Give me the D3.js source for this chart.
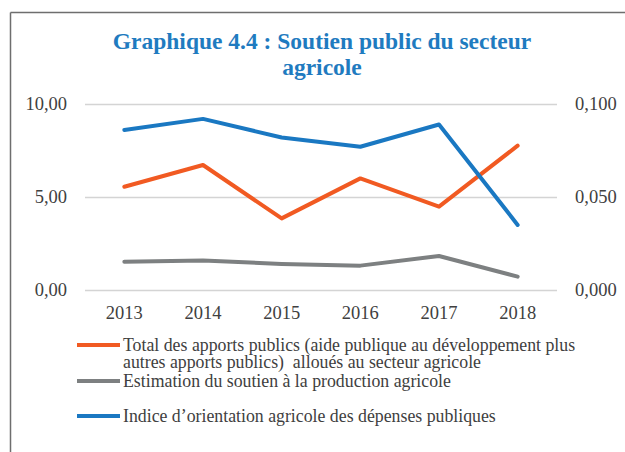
<!DOCTYPE html>
<html>
<head>
<meta charset="utf-8">
<script src="https://cdn.jsdelivr.net/npm/d3@7"></script>
<style>
  body { margin: 0; background: #fff; }
  svg { display: block; font-family: "Liberation Serif", "DejaVu Serif", serif; }
</style>
</head>
<body>
<script>
// data
var years = ['2013', '2014', '2015', '2016', '2017', '2018'];
var totalApports = [5.55, 6.72, 3.85, 6.00, 4.48, 7.76];
var soutienProd = [1.52, 1.58, 1.40, 1.31, 1.83, 0.72];
var indiceOrient = [0.086, 0.092, 0.082, 0.077, 0.089, 0.035];
var leftTicks = [0, 5, 10];
var rightTicks = [0, 0.05, 0.1];
var titleLines = ['Graphique 4.4 : Soutien public du secteur', 'agricole'];
var legendLabels = [
  ['Total des apports publics (aide publique au développement plus', 'autres apports publics)\u00a0 alloués au secteur agricole'],
  ['Estimation du soutien à la production agricole'],
  ['Indice d\u2019orientation agricole des dépenses publiques']
];

var W = 625, H = 452;
var textCol = '#404040';
var colors = ['#f15a22', '#7d8081', '#1a78c2'];

var svg = d3.select('body').append('svg')
  .attr('width', W)
  .attr('height', H);

// frame (top and left edges only)
svg.append('line').attr('x1', 10.5).attr('y1', 12.5).attr('x2', W).attr('y2', 12.5)
  .attr('stroke', '#6e6e6e').attr('stroke-width', 1.5);
svg.append('line').attr('x1', 10.5).attr('y1', 12.5).attr('x2', 10.5).attr('y2', H)
  .attr('stroke', '#6e6e6e').attr('stroke-width', 1.5);

// title
svg.append('text')
  .attr('x', 322)
  .attr('y', 49)
  .attr('text-anchor', 'middle')
  .attr('fill', '#1f7bc0')
  .attr('font-weight', 'bold')
  .attr('font-size', 23.5)
  .selectAll('tspan')
  .data(titleLines)
  .enter().append('tspan')
  .attr('x', 322)
  .attr('dy', function (d, i) { return i === 0 ? 0 : 26; })
  .text(function (d) { return d; });

var plot = { left: 85, right: 557, top: 104, bottom: 290 };

var x = d3.scaleBand().domain(years).range([plot.left, plot.right]);
var yL = d3.scaleLinear().domain([0, 10]).range([plot.bottom, plot.top]);
var yR = d3.scaleLinear().domain([0, 0.1]).range([plot.bottom, plot.top]);

var fmt2 = function (v) { return d3.format('.2f')(v).replace('.', ','); };
var fmt3 = function (v) { return d3.format('.3f')(v).replace('.', ','); };

// gridlines
svg.append('g')
  .selectAll('line')
  .data(leftTicks)
  .enter().append('line')
  .attr('x1', plot.left)
  .attr('x2', plot.right)
  .attr('y1', function (d) { return yL(d) + 0.5; })
  .attr('y2', function (d) { return yL(d) + 0.5; })
  .attr('stroke', '#d4d4d4')
  .attr('stroke-width', 1.5);

// left axis
var axisL = svg.append('g')
  .attr('transform', 'translate(' + (plot.left - 18) + ',0)')
  .call(d3.axisLeft(yL).tickValues(leftTicks).tickFormat(fmt2).tickSize(0).tickPadding(0));
axisL.select('.domain').remove();
axisL.selectAll('text').attr('font-size', 18.5).attr('fill', textCol)
  .attr('font-family', '"Liberation Serif", serif').attr('dy', '0.32em');

// right axis
var axisR = svg.append('g')
  .attr('transform', 'translate(' + (plot.right + 18) + ',0)')
  .call(d3.axisRight(yR).tickValues(rightTicks).tickFormat(fmt3).tickSize(0).tickPadding(0));
axisR.select('.domain').remove();
axisR.selectAll('text').attr('font-size', 18.5).attr('fill', textCol)
  .attr('font-family', '"Liberation Serif", serif').attr('dy', '0.32em');

// x axis
var axisX = svg.append('g')
  .attr('transform', 'translate(0,' + (plot.bottom + 16) + ')')
  .call(d3.axisBottom(x).tickSize(0).tickPadding(0));
axisX.select('.domain').remove();
axisX.selectAll('text').attr('font-size', 18.5).attr('fill', textCol)
  .attr('font-family', '"Liberation Serif", serif').attr('dy', '0.71em');

// lines
var cx = function (d, i) { return x(years[i]) + x.bandwidth() / 2; };
var lineL = d3.line().x(cx).y(function (d) { return yL(d); });
var lineR = d3.line().x(cx).y(function (d) { return yR(d); });

svg.append('path').datum(soutienProd)
  .attr('d', lineL).attr('fill', 'none').attr('stroke', colors[1])
  .attr('stroke-width', 4).attr('stroke-linejoin', 'round').attr('stroke-linecap', 'round');
svg.append('path').datum(totalApports)
  .attr('d', lineL).attr('fill', 'none').attr('stroke', colors[0])
  .attr('stroke-width', 4).attr('stroke-linejoin', 'round').attr('stroke-linecap', 'round');
svg.append('path').datum(indiceOrient)
  .attr('d', lineR).attr('fill', 'none').attr('stroke', colors[2])
  .attr('stroke-width', 4).attr('stroke-linejoin', 'round').attr('stroke-linecap', 'round');

// legend
var legendY = [345, 381, 416];
var legend = svg.append('g');
legendLabels.forEach(function (lines, i) {
  legend.append('line')
    .attr('x1', 77).attr('x2', 120)
    .attr('y1', legendY[i]).attr('y2', legendY[i])
    .attr('stroke', colors[i]).attr('stroke-width', 4);
  legend.append('text')
    .attr('x', 123)
    .attr('y', legendY[i] + 6)
    .attr('font-size', 17.8)
    .attr('fill', textCol)
    .selectAll('tspan')
    .data(lines)
    .enter().append('tspan')
    .attr('x', 123)
    .attr('dy', function (d, j) { return j === 0 ? 0 : 17; })
    .text(function (d) { return d; });
});
</script>
</body>
</html>
